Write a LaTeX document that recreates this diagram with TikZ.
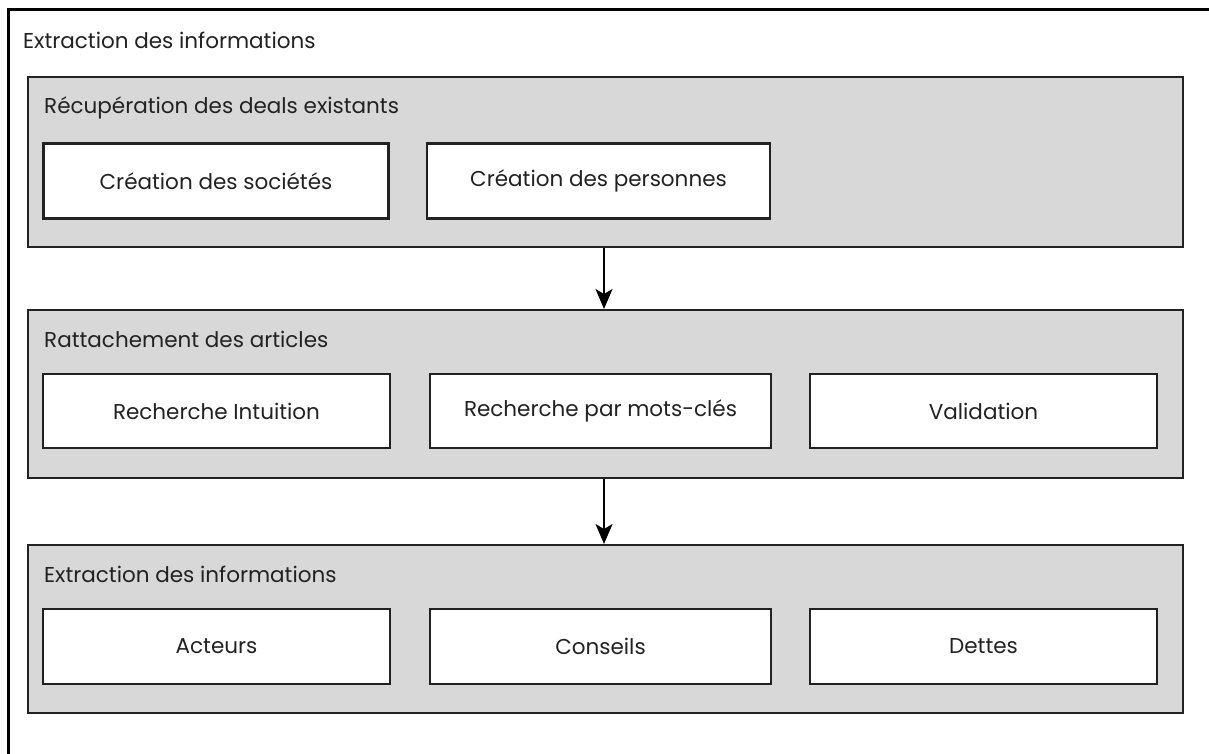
\documentclass[tikz,border=0pt]{standalone}
\usepackage{fontspec}
\setmainfont{Poppins}
\usetikzlibrary{arrows.meta}
\definecolor{grpfill}{HTML}{D8D8D8}
\definecolor{ink}{HTML}{222222}
\tikzset{
  grp/.style={draw=ink, line width=2pt, fill=grpfill, inner sep=0pt},
  task/.style={draw=ink, line width=2.5pt, fill=white, inner sep=0pt, text=ink, font=\fontsize{21.5}{24}\selectfont},
  lbl/.style={anchor=west, inner sep=0pt, text=ink, font=\fontsize{21.5}{24}\selectfont},
  flow/.style={draw=black, line width=2pt, -{Stealth[length=20pt,width=17pt,inset=5pt]}}
}
\begin{document}
\begin{tikzpicture}[x=1pt,y=-1pt]
\useasboundingbox (0,0) rectangle (1209,753);
\clip (0,0) rectangle (1209,753);
\fill[white] (0,0) rectangle (1209,753);
% outer frame
\draw[line width=3pt, black] (8,770) -- (8,9) -- (1230,9);
\node[lbl] (title) at (23,40) {Extraction des informations};
% group 1
\node[grp, minimum width=1155pt, minimum height=170pt] (g1) at (605.5,161.5) {};
\node[lbl] (g1t) at (44,108) {Récupération des deals existants};
\node[task, minimum width=345pt, minimum height=75pt] (a1) at (216,181) {Création des sociétés};
\node[task, minimum width=343pt, minimum height=75pt] (a2) at (598.5,181) {Création des personnes};
% group 2
\node[grp, minimum width=1155pt, minimum height=168pt] (g2) at (605.5,394) {};
\node[lbl] (g2t) at (44,339) {Rattachement des articles};
\node[task, minimum width=347pt, minimum height=74pt] (b1) at (216.5,411) {Recherche Intuition};
\node[task, minimum width=341pt, minimum height=74pt] (b2) at (600.5,411) {Recherche par mots-clés};
\node[task, minimum width=347pt, minimum height=74pt] (b3) at (983.5,411) {Validation};
% group 3
\node[grp, minimum width=1155pt, minimum height=168pt] (g3) at (605.5,629) {};
\node[lbl] (g3t) at (44,574) {Extraction des informations};
\node[task, minimum width=347pt, minimum height=75pt] (c1) at (216.5,646.5) {Acteurs};
\node[task, minimum width=341pt, minimum height=75pt] (c2) at (600.5,646.5) {Conseils};
\node[task, minimum width=347pt, minimum height=75pt] (c3) at (983.5,646.5) {Dettes};
% arrows
\draw[flow] (g1.south -| 604,0) -- (g2.north -| 604,0);
\draw[flow] (g2.south -| 604,0) -- (g3.north -| 604,0);
\end{tikzpicture}
\end{document}
